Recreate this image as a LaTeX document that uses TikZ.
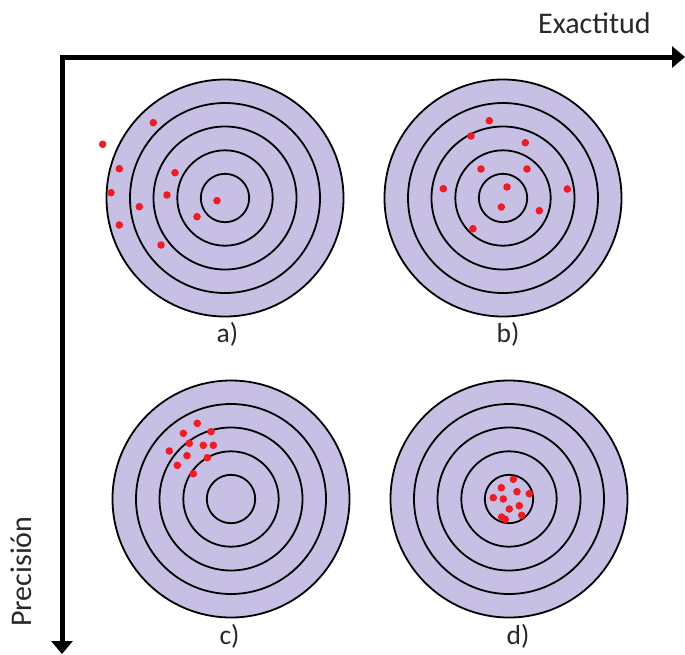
\documentclass[tikz,border=0pt]{standalone}
\usepackage{fontspec}
\setmainfont{Carlito}
\usetikzlibrary{arrows.meta}
\definecolor{targetfill}{RGB}{200,192,228}
\definecolor{hitred}{RGB}{238,28,36}
\definecolor{txt}{RGB}{40,40,40}
\tikzset{
  ring/.style={draw=black,line width=1.8pt},
  disc/.style={ring,fill=targetfill},
  hit/.style={fill=hitred,draw=none},
  lbl/.style={font=\fontsize{27.5}{30}\selectfont,text=txt,inner sep=0pt},
  axlbl/.style={font=\fontsize{30}{32}\selectfont,text=txt,inner sep=0pt},
  axis/.style={line width=5pt,line join=miter,{Triangle[length=13pt,width=21pt]}-{Triangle[length=13pt,width=21pt]}}
}
\newcommand{\target}[3]{%
  \coordinate (#1) at (#2,#3);
  \fill[disc] (#1) circle[radius=118.5];
  \foreach \r in {95,71.5,47.7,24.2} \draw[ring] (#1) circle[radius=\r];
}
\begin{document}
\begin{tikzpicture}[x=1pt,y=-1pt]
\useasboundingbox (0,0) rectangle (685,654);
% targets
\target{A}{225}{198}
\target{B}{503}{198}
\target{C}{231}{499}
\target{D}{509}{499}
% hits a
\foreach \x/\y in {153.3/122.7,102.7/144.3,119.3/168.7,175/172.7,111/192.7,167/195,139.3/206.7,217/200.7,197/216.7,119.3/225,161/245}
  \fill[hit] (\x,\y) circle[radius=3.8];
% hits b
\foreach \x/\y in {489.3/120.7,471/136,525.3/142.7,481/169,527/169,443.3/188.7,507/187,567.3/189,501.3/207,539.3/210.7,473/228.7}
  \fill[hit] (\x,\y) circle[radius=3.8];
% hits c
\foreach \x/\y in {197.3/423.3,183.3/433.3,211/431.7,189.3/443.3,203.3/445.3,213.3/445.3,169.3/451,187/455.7,207.3/457.7,177.3/465.3,193.3/473.7}
  \fill[hit] (\x,\y) circle[radius=3.8];
% hits d
\foreach \x/\y in {513.3/479.3,501.3/487.7,517/491.7,529.3/493.7,493.3/497.7,503.3/499,519.3/505.7,509.3/509,501.7/517,505.3/519.3,521.7/515.3}
  \fill[hit] (\x,\y) circle[radius=3.8];
% axes
\coordinate (xend) at (685,57);
\coordinate (corner) at (62,57);
\coordinate (yend) at (62,654);
\draw[axis] (xend) -- (corner) -- (yend);
% labels
\node[axlbl,anchor=base west] (ex) at (538,33.3) {Exactitud};
\node[axlbl,anchor=base west,rotate=90] (pr) at (31.5,627) {Precisión};
\node[lbl,anchor=base] (la) at (227.5,342.5) {a)};
\node[lbl,anchor=base] (lb) at (508,342.5) {b)};
\node[lbl,anchor=base] (lc) at (229.5,644) {c)};
\node[lbl,anchor=base] (ld) at (518,644) {d)};
\end{tikzpicture}
\end{document}
